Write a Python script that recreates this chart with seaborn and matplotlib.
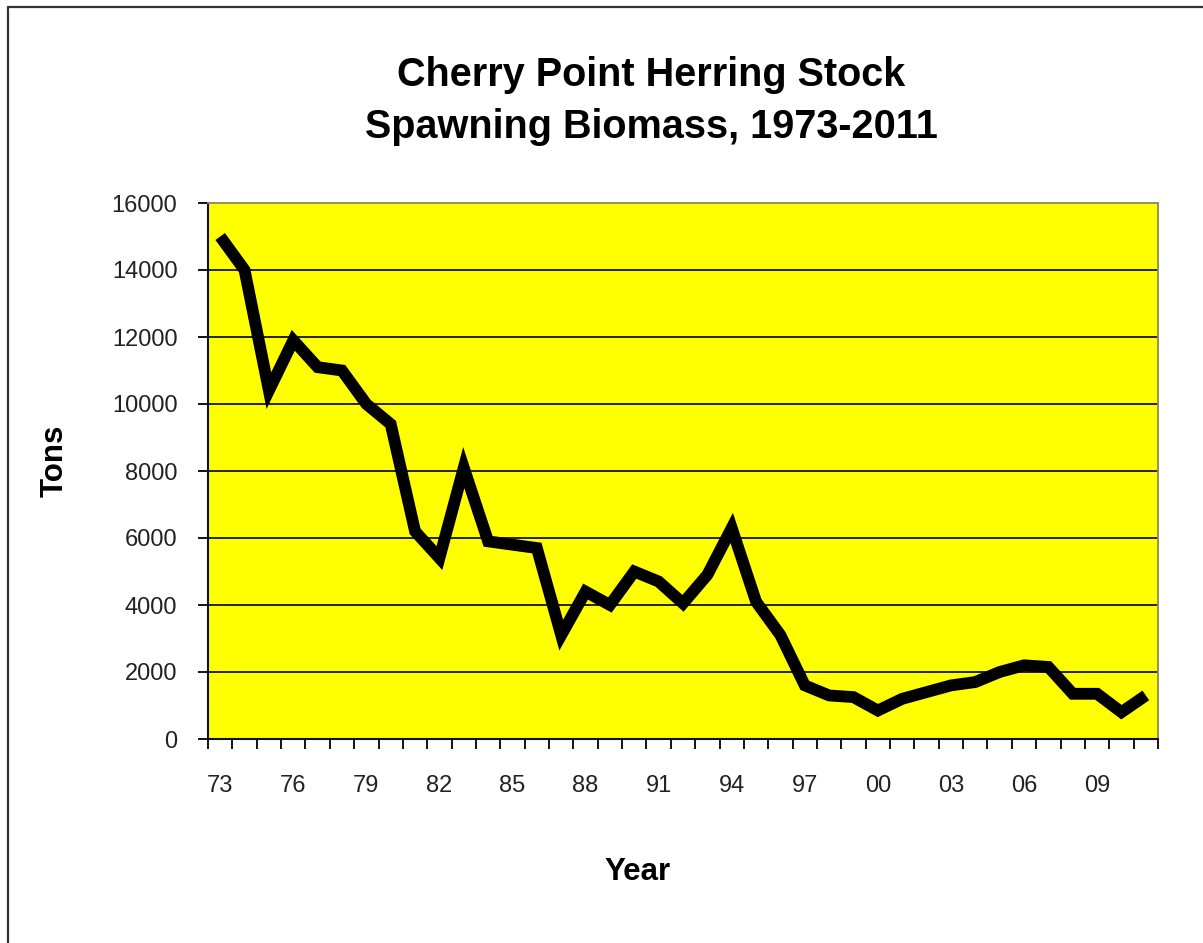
import numpy as np
import pandas as pd
import matplotlib
matplotlib.use("Agg")
import matplotlib.pyplot as plt
from matplotlib.lines import Line2D
from matplotlib.ticker import FixedLocator
import seaborn as sns

# Cherry Point herring spawning biomass (tons)
years = list(range(1973, 2012))
biomass = [15000, 14000, 10400, 11900, 11100, 11000, 10000, 9400, 6200, 5400,
           8100, 5900, 5800, 5700, 3100, 4400, 4000, 5000, 4700, 4050,
           4900, 6300, 4100, 3100, 1600, 1300, 1250, 850, 1200, 1400,
           1600, 1700, 2000, 2200, 2150, 1350, 1350, 800, 1300]
y_ticks = [0, 2000, 4000, 6000, 8000, 10000, 12000, 14000, 16000]
label_years = years[::3]

sns.set_theme(style="white")
plt.rcParams['font.family'] = ['Liberation Sans', 'DejaVu Sans']

df = pd.DataFrame({"Year": years, "Tons": biomass})

W, H = 1203, 943
fig = plt.figure(figsize=(W / 100, H / 100), dpi=100)
fig.patch.set_facecolor("white")
ax = fig.add_axes([208 / W, 1 - 739 / H, (1158 - 208) / W, (739 - 203) / H])
ax.set_facecolor("#FFFF00")

# horizontal gridlines
for v in y_ticks[1:-1]:
    ax.axhline(v, color="black", lw=1.2, zorder=1)

sns.lineplot(data=df, x="Year", y="Tons", ax=ax, color="black", lw=8.5,
             solid_joinstyle="miter", solid_capstyle="butt", zorder=3)

ax.set_xlim(years[0] - 0.5, years[-1] + 0.5)
ax.set_ylim(0, 16000)

# category style x axis: ticks between years, labels every 3 years
ax.set_xticks(label_years)
ax.set_xticklabels([f"{y % 100:02d}" for y in label_years])
ax.xaxis.set_minor_locator(FixedLocator(np.arange(years[0] - 0.5, years[-1] + 1.5, 1)))
ax.tick_params(axis="x", which="major", length=0, pad=26, labelsize=17, labelcolor="#222222")
ax.tick_params(axis="x", which="minor", bottom=True, length=7, width=1.3, color="black")

ax.set_yticks(y_ticks)
ax.set_yticklabels([str(v) for v in y_ticks])
ax.tick_params(axis="y", left=True, length=7, width=1.3, color="black", pad=15,
               labelsize=17, labelcolor="#222222")

ax.set_xlabel("")
ax.set_ylabel("")
for side in ["left", "bottom"]:
    ax.spines[side].set_color("#111122")
    ax.spines[side].set_linewidth(1.5)
for side in ["top", "right"]:
    ax.spines[side].set_color("#8a8a50")
    ax.spines[side].set_linewidth(1.3)

# titles and axis labels
fig.text(651 / W, 1 - 86 / H, "Cherry Point Herring Stock", ha="center", va="baseline",
         fontsize=28.5, fontweight="bold", color="black")
fig.text(651 / W, 1 - 138 / H, "Spawning Biomass, 1973-2011", ha="center", va="baseline",
         fontsize=28.5, fontweight="bold", color="black")
fig.text(637 / W, 1 - 880 / H, "Year", ha="center", va="baseline",
         fontsize=22.5, fontweight="bold", color="black")
fig.text(55 / W, 1 - 461 / H, "Tons", ha="center", va="center", rotation=90,
         fontsize=22.5, fontweight="bold", color="black")

# outer chart border (top and left edges visible)
fig.add_artist(Line2D([8 / W, 1.0], [1 - 7 / H, 1 - 7 / H], transform=fig.transFigure,
                      color="#333333", lw=1.6))
fig.add_artist(Line2D([8 / W, 8 / W], [0.0, 1 - 7 / H], transform=fig.transFigure,
                      color="#333333", lw=1.6))

fig.savefig("out.png", dpi=100)
